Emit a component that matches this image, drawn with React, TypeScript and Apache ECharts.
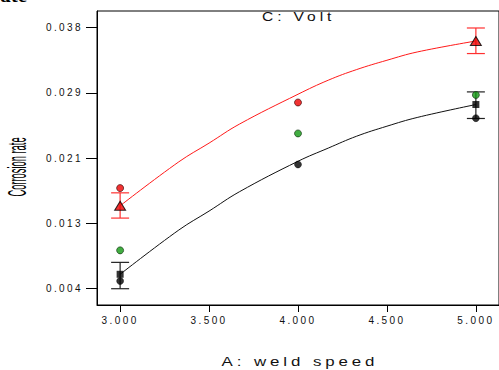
import React, { useEffect, useRef } from "react";
import * as echarts from "echarts";

// Axis ticks
const xTickValues = [3.0, 3.5, 4.0, 4.5, 5.0];
const xTickLabels = ["3.000", "3.500", "4.000", "4.500", "5.000"];
const yTickValues = [0.00425, 0.012625, 0.021, 0.029375, 0.03775];
const yTickLabels = ["0.004", "0.013", "0.021", "0.029", "0.038"];

// Fitted curves
const curveX = [3.0, 3.33, 3.5, 3.67, 4.0, 4.17, 4.33, 4.5, 4.67, 5.0];
const highCurveY = [0.01489, 0.02053, 0.02293, 0.02536, 0.0292, 0.031, 0.03237, 0.03356, 0.03462, 0.03603];
const lowCurveY = [0.0061, 0.01178, 0.01421, 0.01668, 0.0206, 0.02229, 0.02382, 0.0251, 0.02622, 0.02788];

// Predicted points with LSD bars
const predX = [3.0, 5.0];
const highPredY = [0.01489, 0.03603];
const highLow = [0.01331, 0.03442];
const highHigh = [0.01655, 0.0377];
const lowPredY = [0.0061, 0.02788];
const lowLow = [0.00425, 0.02609];
const lowHigh = [0.00763, 0.0295];

// Design points
const redX = [3.0, 4.0];
const redY = [0.01716, 0.02814];
const greenX = [3.0, 4.0, 5.0];
const greenY = [0.00917, 0.02417, 0.02911];
const blackX = [3.0, 4.0, 5.0];
const blackY = [0.00524, 0.02019, 0.02613];

const FONT = "'Liberation Sans', Arial, sans-serif";

const zip = (xs: number[], ys: number[]) => xs.map((x, i) => [x, ys[i]]);
const zip3 = (xs: number[], a: number[], b: number[]) => xs.map((x, i) => [x, a[i], b[i]]);

const labelFor = (vals: number[], labels: string[]) => (v: number) => {
  const i = vals.findIndex((t) => Math.abs(t - v) < 1e-7);
  return i >= 0 ? labels[i] : "";
};

const errBar = (color: string) => (params: any, api: any) => {
  const x = api.value(0);
  const lo = api.coord([x, api.value(1)]);
  const hi = api.coord([x, api.value(2)]);
  const hw = 9;
  const style = { stroke: color, lineWidth: 1.2 };
  return {
    type: "group",
    children: [
      { type: "line", shape: { x1: lo[0], y1: lo[1], x2: hi[0], y2: hi[1] }, style },
      { type: "line", shape: { x1: lo[0] - hw, y1: lo[1], x2: lo[0] + hw, y2: lo[1] }, style },
      { type: "line", shape: { x1: hi[0] - hw, y1: hi[1], x2: hi[0] + hw, y2: hi[1] }, style },
    ],
  };
};

export default function App() {
  const ref = useRef<HTMLDivElement>(null);
  useEffect(() => {
    document.body.style.margin = "0";
    const el = ref.current!;
    const chart = echarts.init(el, undefined, { renderer: "svg" });
    const option: any = {
      animation: false,
      backgroundColor: "#fff",
      grid: {
        left: 97,
        top: 11,
        right: -5,
        bottom: 65,
        show: true,
        borderColor: "#000",
        borderWidth: 1,
      },
      xAxis: {
        type: "value",
        min: 2.87,
        max: 5.13,
        axisLine: { show: true, lineStyle: { color: "#000", width: 1 } },
        axisTick: { show: true, length: 7, customValues: xTickValues, lineStyle: { color: "#000" } },
        axisLabel: {
          customValues: xTickValues,
          formatter: labelFor(xTickValues, xTickLabels),
          fontSize: 10,
          fontFamily: FONT,
          color: "#111",
          margin: 10,
        },
        splitLine: { show: false },
      },
      yAxis: {
        type: "value",
        min: 0.00216,
        max: 0.03988,
        axisLine: { show: true, lineStyle: { color: "#000", width: 1 } },
        axisTick: { show: true, length: 11, customValues: yTickValues, lineStyle: { color: "#000" } },
        axisLabel: {
          customValues: yTickValues,
          formatter: labelFor(yTickValues, yTickLabels),
          fontSize: 10,
          fontFamily: FONT,
          color: "#111",
          margin: 14,
        },
        splitLine: { show: false },
      },
      graphic: [
        {
          type: "text",
          x: 27,
          y: -5.4,
          style: {
            text: "rate",
            font: "bold 21px 'Liberation Serif', serif",
            fill: "#000",
            textAlign: "right",
            textVerticalAlign: "middle",
          },
        },
        {
          type: "text",
          x: 262,
          y: 17,
          scaleX: 1.3,
          style: {
            text: "C: Volt",
            font: `12px ${FONT}`,
            fill: "#111",
            textAlign: "left",
            textVerticalAlign: "middle",
          },
        },
        {
          type: "text",
          x: 300,
          y: 361,
          scaleX: 1.3,
          style: {
            text: "A: weld speed",
            font: `13px ${FONT}`,
            fill: "#111",
            textAlign: "center",
            textVerticalAlign: "middle",
          },
        },
        {
          type: "text",
          x: 16.5,
          y: 167,
          rotation: Math.PI / 2,
          scaleX: 0.36,
          style: {
            text: "Corrosion rate",
            font: `26px ${FONT}`,
            fill: "#000",
            textAlign: "center",
            textVerticalAlign: "middle",
          },
        },
      ],
      series: [
        {
          type: "line",
          data: zip(curveX, highCurveY),
          smooth: 0.4,
          symbol: "none",
          lineStyle: { color: "#ff1a1a", width: 1 },
          z: 2,
        },
        {
          type: "line",
          data: zip(curveX, lowCurveY),
          smooth: 0.4,
          symbol: "none",
          lineStyle: { color: "#111", width: 1 },
          z: 2,
        },
        {
          type: "custom",
          data: zip3(predX, highLow, highHigh),
          renderItem: errBar("#ff3030"),
          encode: { x: 0, y: [1, 2] },
          z: 3,
        },
        {
          type: "custom",
          data: zip3(predX, lowLow, lowHigh),
          renderItem: errBar("#222"),
          encode: { x: 0, y: [1, 2] },
          z: 3,
        },
        {
          type: "scatter",
          data: zip(blackX, blackY),
          symbol: "circle",
          symbolSize: 7,
          itemStyle: { color: "#000", borderColor: "#000", borderWidth: 0.5 },
          z: 4,
        },
        {
          type: "scatter",
          data: zip(greenX, greenY),
          symbol: "circle",
          symbolSize: 7,
          itemStyle: { color: "#119911", borderColor: "#103010", borderWidth: 0.8 },
          z: 4,
        },
        {
          type: "scatter",
          data: zip(redX, redY),
          symbol: "circle",
          symbolSize: 7,
          itemStyle: { color: "#ee0000", borderColor: "#300", borderWidth: 0.8 },
          z: 4,
        },
        {
          type: "scatter",
          data: zip(predX, lowPredY),
          symbol: "rect",
          symbolSize: 7,
          itemStyle: { color: "#000" },
          z: 5,
        },
        {
          type: "scatter",
          data: zip(predX, highPredY),
          symbol: "triangle",
          symbolSize: [11, 9],
          itemStyle: { color: "#ee0000", borderColor: "#000", borderWidth: 1 },
          z: 5,
        },
      ],
    };
    chart.setOption(option);
    const applySpacing = () => {
      el.querySelectorAll("text").forEach((t) => {
        const s = t.textContent || "";
        let ls = 0;
        if (/^\d\.\d{3}$/.test(s)) ls = 2.4;
        else if (s === "A: weld speed") ls = 3;
        else if (s === "C: Volt") ls = 3;
        if (ls) t.setAttribute("letter-spacing", String(ls));
      });
    };
    applySpacing();
    chart.on("finished", applySpacing);
    const id = window.setTimeout(applySpacing, 50);
    return () => {
      window.clearTimeout(id);
      chart.dispose();
    };
  }, []);
  return <div ref={ref} style={{ width: 499, height: 370 }} />;
}
